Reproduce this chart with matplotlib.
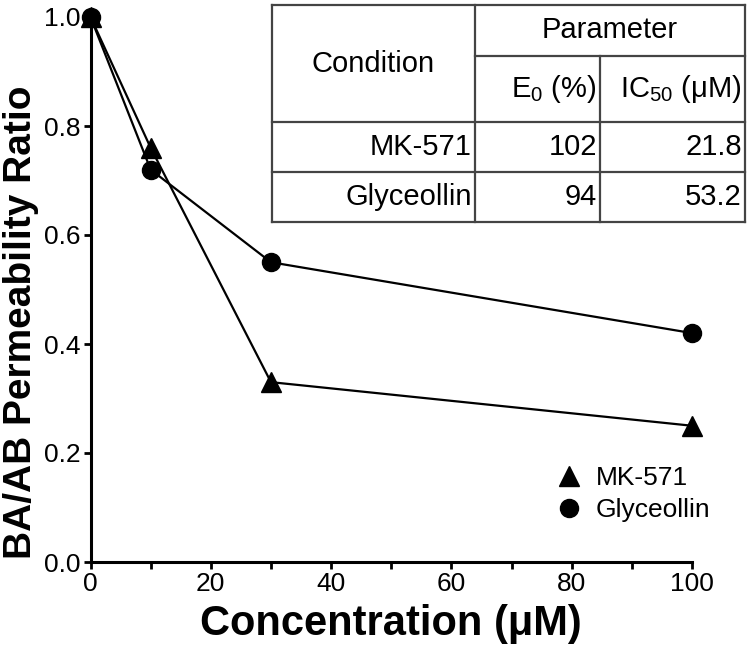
"""
BA/AB permeability ratio vs concentration for MK-571 and Glyceollin,
with an inset parameter table. Saves out.png.
"""

import matplotlib
matplotlib.use("Agg")
import matplotlib.pyplot as plt
from matplotlib.lines import Line2D

plt.rcParams["font.family"] = ["Liberation Sans", "DejaVu Sans"]
plt.rcParams["mathtext.fontset"] = "custom"
plt.rcParams["mathtext.rm"] = "Liberation Sans"
plt.rcParams["mathtext.it"] = "Liberation Sans"

# data
conc = [0, 10, 30, 100]
mk571 = [1.0, 0.76, 0.33, 0.25]
glyceollin = [1.0, 0.72, 0.55, 0.42]

# inset table
conditions = ["MK-571", "Glyceollin"]
e0_pct = ["102", "94"]
ic50_um = ["21.8", "53.2"]

W, H = 750, 657
fig = plt.figure(figsize=(W / 100, H / 100), dpi=100)
ax = fig.add_axes([90.5 / W, 1 - 562 / H, 601.5 / W, 545 / H])

lw = 1.6
ax.plot(conc, mk571, "-", color="black", lw=lw, marker="^", ms=14,
        clip_on=False, zorder=3)
ax.plot(conc, glyceollin, "-", color="black", lw=lw, marker="o", ms=13,
        clip_on=False, zorder=3)

ax.set_xlim(0, 100)
ax.set_ylim(0, 1.0)
ax.set_xticks(range(0, 101, 20))
ax.set_xticks(range(10, 100, 20), minor=True)
ax.set_yticks([0.0, 0.2, 0.4, 0.6, 0.8, 1.0])
ax.set_yticklabels([f"{v:.1f}" for v in [0.0, 0.2, 0.4, 0.6, 0.8, 1.0]])

for side in ["top", "right"]:
    ax.spines[side].set_visible(False)
for side in ["left", "bottom"]:
    ax.spines[side].set_linewidth(2.2)
ax.tick_params(which="both", direction="out", length=5, width=2,
               labelsize=19, pad=2)

ax.set_xlabel("Concentration (μM)", fontsize=30, fontweight="bold", labelpad=6)
ax.set_ylabel("BA/AB Permeability Ratio", fontsize=28, fontweight="bold")
ax.yaxis.set_label_coords(-0.085, 0.44)

legend_elements = [
    Line2D([0], [0], marker="^", color="w", markerfacecolor="black",
           markeredgecolor="black", markersize=14, label="MK-571"),
    Line2D([0], [0], marker="o", color="w", markerfacecolor="black",
           markeredgecolor="black", markersize=13, label="Glyceollin"),
]
ax.legend(handles=legend_elements, loc="lower right", frameon=False,
          fontsize=19, handlelength=0.8, handletextpad=0.6, labelspacing=0.3,
          bbox_to_anchor=(1.07, 0.03))

# inset table drawn in pixel coordinates (converted to figure fraction)
def fx(px):
    return px / W


def fy(py):
    return 1 - py / H


tcol = "#444444"
tlw = 1.6
xl, xc1, xc2, xr = 272, 475, 600, 745
yt, ysub, yr1, yr2, yb = 5, 56, 122, 172, 222

segs = [
    ((xl, yt), (xr, yt)), ((xl, yb), (xr, yb)),
    ((xl, yt), (xl, yb)), ((xr, yt), (xr, yb)),
    ((xc1, yt), (xc1, yb)), ((xc2, ysub), (xc2, yb)),
    ((xc1, ysub), (xr, ysub)),
    ((xl, yr1), (xr, yr1)), ((xl, yr2), (xr, yr2)),
]
for (x0, y0), (x1, y1) in segs:
    fig.add_artist(Line2D([fx(x0), fx(x1)], [fy(y0), fy(y1)],
                          color=tcol, lw=tlw, transform=fig.transFigure))

tfs = 21
fig.text(fx((xl + xc1) / 2), fy((yt + yr1) / 2), "Condition", fontsize=tfs,
         ha="center", va="center")
fig.text(fx((xc1 + xr) / 2), fy((yt + ysub) / 2), "Parameter", fontsize=tfs,
         ha="center", va="center")
fig.text(fx(xc2 - 3), fy((ysub + yr1) / 2), r"E$_{0}$ (%)", fontsize=tfs,
         ha="right", va="center")
fig.text(fx(xr - 3), fy((ysub + yr1) / 2), r"IC$_{50}$ (μM)", fontsize=tfs,
         ha="right", va="center")

row_mid = [(yr1 + yr2) / 2, (yr2 + yb) / 2]
for name, e0, ic50, ym in zip(conditions, e0_pct, ic50_um, row_mid):
    fig.text(fx(xc1 - 3), fy(ym), name, fontsize=tfs, ha="right", va="center")
    fig.text(fx(xc2 - 3), fy(ym), e0, fontsize=tfs, ha="right", va="center")
    fig.text(fx(xr - 3), fy(ym), ic50, fontsize=tfs, ha="right", va="center")

fig.savefig("out.png", dpi=100)
